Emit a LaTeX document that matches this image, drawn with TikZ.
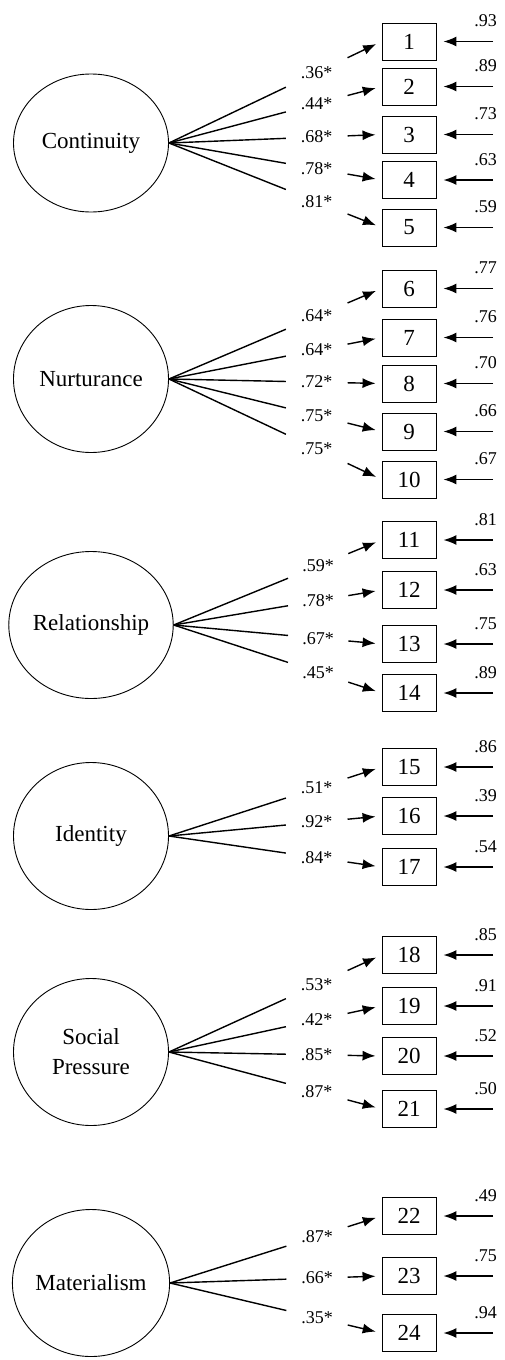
\documentclass[tikz,border=0pt]{standalone}
\usepackage{fontspec}
\setmainfont{Liberation Serif}
\usetikzlibrary{shapes.geometric,arrows.meta,calc}

\begin{document}
    \begin{tikzpicture}[x=1pt,y=-1pt,
        factor/.style={draw,ellipse,line width=0.9pt,minimum width=155pt,minimum height=147pt,inner sep=0pt,align=center,font=\fontsize{23pt}{30pt}\selectfont},
        item/.style={draw,rectangle,line width=0.9pt,minimum width=54pt,minimum height=37pt,inner sep=0pt,font=\fontsize{23pt}{27pt}\selectfont},
        coef/.style={inner sep=0pt,font=\fontsize{18pt}{21pt}\selectfont},
        load/.style={line width=1.4pt},
        tip/.style={-{Latex[length=13pt,width=10pt]}}]
        \useasboundingbox (0,0) rectangle (504,1360);

        % latent factors
        \node[factor,minimum height=138pt] (cont) at (91,143) {Continuity};
        \node[factor] (nurt) at (91,379) {Nurturance};
        \node[factor] (rel) at (91,625) {Relationship};
        \node[factor] (iden) at (91,836) {Identity};
        \node[factor] (soc) at (91,1052) {Social\\Pressure};
        \node[factor] (mat) at (91,1283) {Materialism};

        % indicators with their error terms
        \foreach \i/\y/\e in {1/41.5/.93, 2/86.5/.89, 3/134.5/.73, 4/180/.63, 5/227.5/.59,
                6/288.5/.77, 7/337.5/.76, 8/383.5/.70, 9/431.5/.66, 10/479.5/.67,
                11/540/.81, 12/590/.63, 13/644/.75, 14/693/.89,
                15/767/.86, 16/816/.39, 17/867/.54,
                18/955/.85, 19/1006/.91, 20/1056/.52, 21/1109/.50,
                22/1216/.49, 23/1276/.75, 24/1333/.94} {
            \node[item] (i\i) at (409,\y) {\i};
            \coordinate (e\i) at (493,\y);
            \draw[load,tip,shorten >=7pt] (e\i) -- (i\i);
            \node[coef,anchor=base east] at ([xshift=4pt,yshift=15pt]e\i) {\e};
        }

        % loadings
        \foreach \f/\i/\w in {cont/1/.36*, cont/2/.44*, cont/3/.68*, cont/4/.78*, cont/5/.81*,
                nurt/6/.64*, nurt/7/.64*, nurt/8/.72*, nurt/9/.75*, nurt/10/.75*,
                rel/11/.59*, rel/12/.78*, rel/13/.67*, rel/14/.45*,
                iden/15/.51*, iden/16/.92*, iden/17/.84*,
                soc/18/.53*, soc/19/.42*, soc/20/.85*, soc/21/.87*,
                mat/22/.87*, mat/23/.66*, mat/24/.35*} {
            \draw[load] (\f.east) -- ($(\f.east)!.55!(i\i.west)$);
            \draw[load,tip,shorten >=6pt] ($(\f.east)!.84!(i\i.west)$) -- (i\i.west);
            \node[coef] at ($(\f.east)!.695!(i\i.west)$) {\w};
        }
    \end{tikzpicture}
\end{document}
